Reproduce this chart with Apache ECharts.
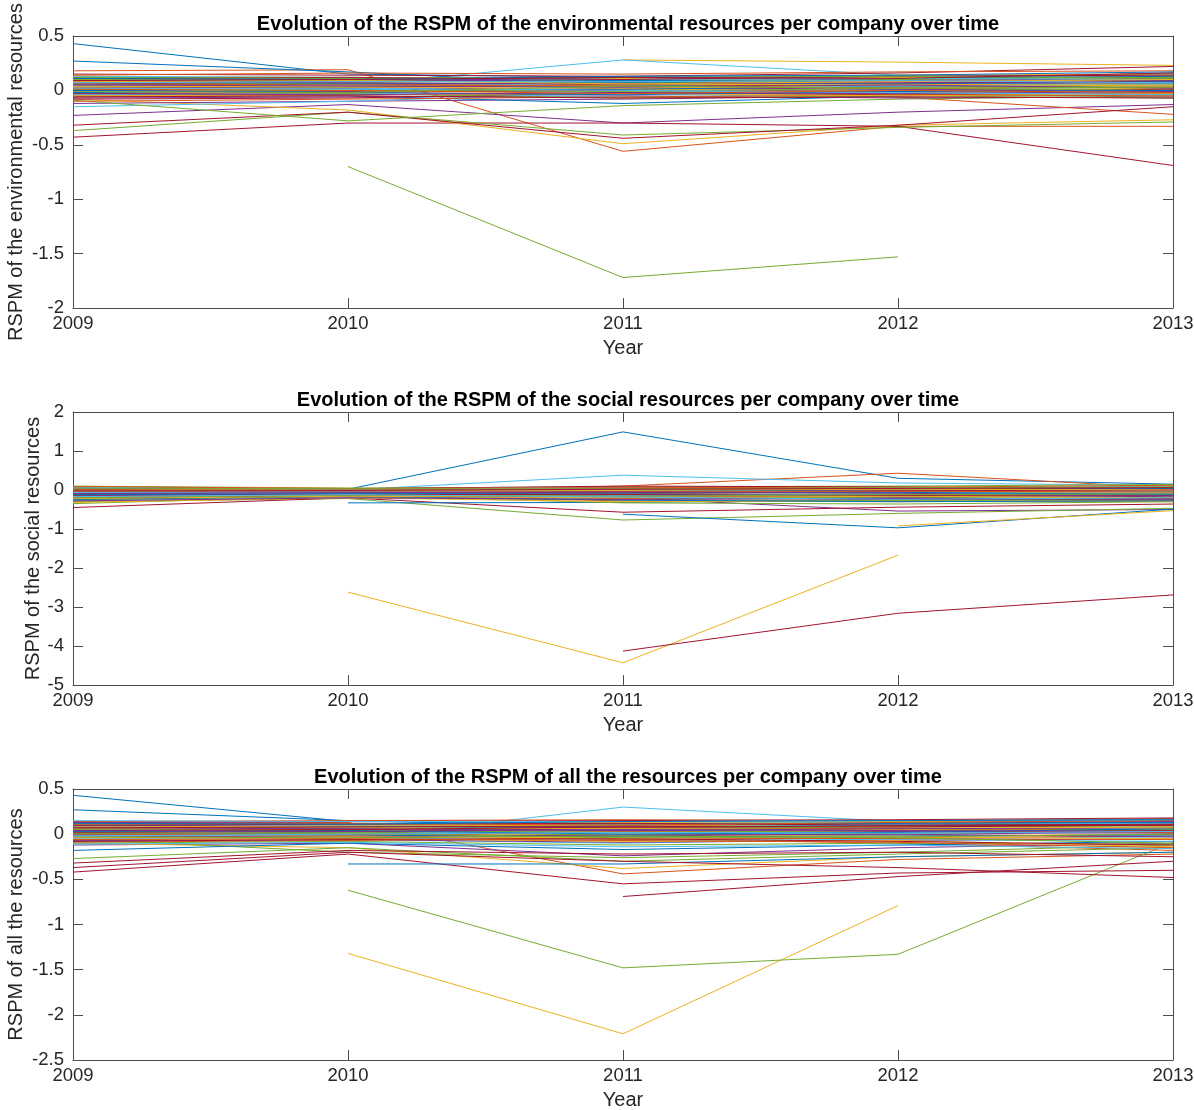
<!DOCTYPE html>
<html>
<head>
<meta charset="utf-8">
<script src="https://cdn.jsdelivr.net/npm/echarts@6/dist/echarts.min.js"></script>
<style>
  html, body { margin: 0; padding: 0; background: #fff; }
  #chart { width: 1194px; height: 1110px; }
</style>
</head>
<body>
<div id="chart"></div>
<script>
// x categories
const years = [2009, 2010, 2011, 2012, 2013]

// tick labels per panel
const envTicks = [-2, -1.5, -1, -0.5, 0, 0.5]
const socTicks = [-5, -4, -3, -2, -1, 0, 1, 2]
const allTicks = [-2.5, -2, -1.5, -1, -0.5, 0, 0.5]

// one row per company, rows go in sets of seven (blue, orange, yellow, purple, green, light blue, dark red)
const envRows = [
  [0.43, 0.15, 0.12, 0.13, 0.15], [0.18, 0.19, -0.56, -0.33, -0.33], [null, null, 0.28, 0.26, 0.23], [-0.23, -0.13, -0.3, -0.2, -0.13], [null, -0.7, -1.72, -1.53, null], [0.08, 0.05, 0.28, 0.14, 0.12], [-0.43, -0.3, -0.3, -0.33, -0.69],
  [0.27, 0.17, 0.05, 0.1, 0.16], [0.02, 0.03, 0.0, -0.06, -0.22], [-0.08, -0.18, -0.49, -0.32, -0.27], [-0.12, -0.1, -0.08, -0.05, -0.04], [-0.37, -0.2, -0.41, -0.34, -0.29], [-0.15, -0.1, -0.02, 0.0, 0.02], [-0.32, -0.2, -0.44, -0.32, -0.15],
  [-0.05, -0.05, -0.12, -0.05, -0.03], [0.12, 0.1, 0.08, 0.11, 0.13], [0.06, 0.07, 0.1, 0.09, 0.11], [0.03, 0.02, 0.0, 0.03, 0.05], [-0.09, -0.28, -0.14, -0.08, -0.05], [0.1, 0.09, 0.11, 0.12, 0.14], [0.15, 0.14, 0.13, 0.16, 0.22],
  [0.09, 0.08, 0.1, 0.12, 0.12], [-0.06, -0.04, -0.03, -0.02, -0.01], [0.1, 0.11, 0.09, 0.12, 0.08], [-0.07, -0.06, -0.05, -0.07, -0.06], [0.04, 0.03, 0.05, 0.06, 0.07], [0.0, 0.01, -0.02, 0.01, 0.03], [0.07, 0.06, 0.05, 0.04, 0.09],
  [0.02, 0.03, 0.04, 0.08, 0.1], [0.08, 0.07, 0.03, 0.05, 0.06], [-0.02, -0.01, 0.01, 0.0, 0.02], [0.11, 0.1, 0.08, 0.09, 0.11], [0.07, 0.06, 0.02, 0.03, 0.04], [-0.04, -0.03, -0.06, -0.03, -0.02], [-0.08, -0.07, -0.02, -0.04, -0.03],
  [0.12, 0.11, 0.09, 0.1, 0.13], [0.04, 0.05, 0.07, 0.08, 0.09], [0.13, 0.12, 0.11, 0.14, 0.15], [0.0, -0.01, 0.02, 0.01, 0.0], [-0.05, -0.03, -0.07, -0.05, -0.07], [0.06, 0.04, 0.06, 0.07, 0.05], [0.03, 0.02, 0.06, 0.07, 0.08],
  [-0.02, 0.0, 0.01, 0.04, 0.06], [-0.1, -0.08, -0.06, -0.04, -0.05], [0.03, 0.04, 0.05, 0.06, 0.04], [0.06, 0.08, 0.12, 0.1, 0.09], [0.1, 0.09, 0.07, 0.1, 0.12], [0.13, 0.12, 0.1, 0.11, 0.1], [-0.03, -0.02, 0.0, -0.01, 0.01],
  [0.05, 0.06, 0.07, 0.06, 0.08], [0.14, 0.16, 0.15, 0.17, 0.18], [-0.05, -0.04, -0.03, -0.05, -0.03], [0.09, 0.07, 0.06, 0.07, 0.07], [0.01, 0.0, -0.01, 0.02, 0.0], [0.04, 0.05, 0.03, 0.04, 0.06], [0.11, 0.12, 0.1, 0.13, 0.14],
  [0.0, -0.02, -0.04, -0.01, 0.0], [0.06, 0.05, 0.04, 0.02, 0.03], [0.08, 0.09, 0.06, 0.08, 0.1], [-0.03, -0.04, -0.02, -0.03, -0.01], [0.12, 0.11, 0.12, 0.13, 0.11], [0.02, 0.02, 0.0, -0.02, -0.04], [-0.06, -0.05, -0.07, -0.06, -0.07],
  [0.11, 0.1, 0.13, 0.14, 0.17], [0.01, 0.0, -0.03, 0.0, -0.02], [0.04, 0.03, 0.02, 0.05, 0.05], [0.05, 0.04, 0.03, 0.05, 0.02], [-0.01, -0.02, 0.04, 0.02, 0.03], [0.07, 0.08, 0.08, 0.09, 0.07], [0.09, 0.1, 0.12, 0.11, 0.16]
]

const socRows = [
  [0.02, 0.02, 1.49, 0.3, 0.15], [0.0, -0.05, 0.1, 0.43, 0.05], [null, -2.62, -4.43, -1.67, null], [-0.1, -0.12, -0.2, -0.54, -0.5], [-0.3, -0.22, -0.77, -0.6, -0.47], [0.05, 0.0, 0.38, 0.18, 0.12], [-0.45, -0.2, -0.57, -0.44, -0.36],
  [null, null, -0.62, -0.97, -0.49], [-0.08, -0.1, -0.15, -0.2, -0.1], [null, null, null, -0.92, -0.53], [-0.05, -0.06, -0.1, -0.12, -0.1], [0.1, 0.05, 0.08, 0.1, 0.14], [-0.2, -0.15, -0.22, -0.18, -0.15], [null, null, -4.13, -3.16, -2.69],
  [null, -0.33, -0.32, -0.25, -0.22], [0.05, 0.02, 0.0, 0.03, 0.05], [-0.15, -0.12, -0.1, -0.14, -0.12], [0.02, 0.0, -0.03, -0.05, -0.03], [-0.35, -0.15, -0.33, -0.36, -0.3], [0.0, -0.03, -0.05, -0.02, 0.0], [-0.1, -0.08, 0.05, -0.05, -0.1],
  [-0.18, -0.12, -0.2, -0.22, -0.25], [-0.25, -0.15, -0.28, -0.3, -0.26], [0.08, 0.04, 0.02, 0.05, 0.08], [-0.22, -0.18, -0.15, -0.1, -0.08], [-0.02, -0.05, 0.0, 0.02, 0.06], [-0.27, -0.2, -0.1, -0.15, -0.18], [0.06, 0.03, 0.1, 0.08, 0.02],
  [-0.08, -0.07, -0.12, -0.1, -0.05], [-0.12, -0.1, -0.08, -0.15, -0.2], [-0.32, -0.2, -0.3, -0.28, -0.3], [0.04, 0.02, 0.03, 0.0, -0.02], [-0.14, -0.1, -0.18, -0.2, -0.16], [0.07, 0.03, 0.06, 0.04, 0.1], [-0.2, -0.14, -0.18, -0.25, -0.22],
  [0.03, 0.0, -0.02, 0.0, 0.04], [-0.18, -0.13, -0.22, -0.12, -0.15], [-0.05, -0.04, -0.06, -0.08, -0.06], [-0.15, -0.1, -0.12, -0.18, -0.14], [-0.25, -0.17, -0.25, -0.27, -0.25], [-0.12, -0.08, -0.14, -0.1, -0.08], [-0.03, -0.04, -0.07, -0.02, 0.0],
  [-0.24, -0.16, -0.26, -0.3, -0.28], [0.09, 0.04, 0.06, 0.07, 0.12], [-0.22, -0.16, -0.2, -0.16, -0.2], [-0.28, -0.2, -0.24, -0.22, -0.24], [0.05, 0.03, 0.03, 0.06, 0.08], [-0.06, -0.05, -0.03, -0.06, -0.04], [-0.13, -0.11, -0.12, -0.14, -0.12],
  [-0.12, -0.09, -0.08, -0.06, -0.12], [-0.02, -0.02, -0.04, -0.03, -0.05], [0.02, 0.0, -0.01, 0.02, 0.0], [-0.09, -0.07, -0.05, -0.08, -0.18], [-0.2, -0.13, -0.16, -0.12, -0.1], [-0.17, -0.12, -0.18, -0.24, -0.2], [0.0, -0.01, 0.02, 0.04, 0.06]
]

const allRows = [
  [0.43, 0.14, 0.12, 0.13, 0.15], [0.12, 0.13, -0.44, -0.28, -0.22], [null, -1.32, -2.21, -0.79, null], [-0.12, -0.1, -0.24, -0.15, -0.1], [null, -0.62, -1.48, -1.33, -0.09], [0.0, -0.05, 0.3, 0.14, 0.12], [-0.42, -0.22, -0.55, -0.43, -0.4],
  [0.27, 0.15, 0.08, 0.12, 0.17], [0.05, 0.03, -0.05, -0.1, -0.18], [-0.1, -0.15, -0.38, -0.25, -0.2], [0.02, 0.0, -0.02, 0.0, 0.02], [-0.27, -0.15, -0.3, -0.22, -0.15], [-0.08, -0.06, -0.1, -0.05, -0.03], [null, null, -0.69, -0.47, -0.3],
  [null, -0.33, -0.33, -0.25, -0.2], [0.08, 0.06, 0.05, 0.09, 0.1], [0.1, 0.11, 0.08, 0.12, 0.1], [0.06, 0.05, 0.08, 0.07, 0.05], [-0.05, -0.2, -0.26, -0.2, -0.12], [0.1, 0.08, 0.12, 0.13, 0.14], [-0.37, -0.2, -0.3, -0.37, -0.48],
  [-0.18, -0.1, -0.17, -0.12, -0.08], [-0.04, -0.03, -0.06, -0.04, -0.02], [0.04, 0.05, 0.03, 0.06, 0.07], [-0.07, -0.06, -0.09, -0.07, -0.05], [0.12, 0.1, 0.1, 0.11, 0.13], [0.04, 0.03, 0.01, 0.02, 0.04], [-0.32, -0.18, -0.22, -0.2, -0.25],
  [0.0, 0.02, 0.04, 0.05, 0.08], [0.14, 0.15, 0.16, 0.15, 0.17], [-0.03, -0.02, 0.0, -0.02, 0.0], [0.1, 0.09, 0.07, 0.09, 0.1], [0.03, 0.02, -0.01, 0.01, 0.03], [-0.05, -0.04, -0.07, -0.06, -0.08], [0.13, 0.14, 0.15, 0.16, 0.18],
  [0.07, 0.06, 0.09, 0.1, 0.12], [-0.09, -0.07, -0.04, -0.05, -0.06], [0.12, 0.11, 0.13, 0.14, 0.15], [0.01, 0.0, 0.02, 0.03, 0.01], [-0.1, -0.08, -0.12, -0.1, -0.11], [0.05, 0.06, 0.05, 0.07, 0.06], [0.02, 0.03, 0.06, 0.05, 0.04],
  [-0.01, -0.01, -0.03, -0.02, -0.01], [0.06, 0.05, 0.07, 0.06, 0.05], [-0.06, -0.05, -0.08, -0.07, -0.14], [0.13, 0.12, 0.11, 0.12, 0.14], [0.08, 0.07, 0.06, 0.08, 0.09], [0.11, 0.1, 0.09, 0.11, 0.12], [-0.08, -0.06, -0.05, -0.08, -0.12],
  [0.09, 0.08, 0.11, 0.12, 0.13], [0.0, -0.01, 0.03, 0.04, 0.02], [0.06, 0.07, 0.06, 0.05, 0.08], [-0.02, -0.03, -0.01, 0.0, -0.03], [0.05, 0.04, 0.02, 0.04, 0.05], [-0.11, -0.09, -0.14, -0.12, -0.16], [0.1, 0.11, 0.12, 0.1, 0.11],
  [0.03, 0.04, 0.0, 0.02, 0.06], [0.11, 0.12, 0.1, 0.13, 0.15], [-0.04, -0.03, -0.04, -0.03, -0.05], [0.07, 0.06, 0.04, 0.06, 0.07], [-0.03, -0.04, -0.02, -0.04, -0.1], [0.15, 0.14, 0.14, 0.15, 0.16], [0.04, 0.05, 0.08, 0.09, 0.1],
  [0.12, 0.11, 0.14, 0.15, 0.16], [-0.06, -0.05, -0.07, -0.09, -0.15], [0.08, 0.09, 0.1, 0.08, 0.07], [0.04, 0.03, 0.05, 0.04, 0.03], [0.01, 0.01, -0.04, -0.03, 0.0], [-0.02, 0.0, 0.02, 0.01, 0.03], [0.07, 0.08, 0.09, 0.08, 0.1]
]

const titles = [
  'Evolution of the RSPM of the environmental resources per company over time',
  'Evolution of the RSPM of the social resources per company over time',
  'Evolution of the RSPM of all the resources per company over time'
]
const yNames = [
  'RSPM of the environmental resources',
  'RSPM of the social resources',
  'RSPM of all the resources'
]

const palette = ['#0072BD', '#D95319', '#EDB120', '#7E2F8E', '#77AC30', '#4DBEEE', '#A2142F']
const font = 'Liberation Sans, Arial, Helvetica, sans-serif'
const axisCol = '#4d4d4d'
const textCol = '#262626'

const panels = [
  { rows: envRows, ticks: envTicks, step: 0.5, top: 36, height: 272, nameGap: 47 },
  { rows: socRows, ticks: socTicks, step: 1, top: 412, height: 273, nameGap: 30 },
  { rows: allRows, ticks: allTicks, step: 0.5, top: 789, height: 271, nameGap: 47 }
]

function fmt (v) {
  return String(Math.round(v * 10) / 10)
}

let grid = []
let xAxis = []
let yAxis = []
let title = []
let series = []

panels.forEach((p, g) => {
  grid.push({ left: 73, right: 21, top: p.top, height: p.height, containLabel: false, outerBoundsMode: 'none' })
  title.push({
    text: titles[g],
    left: 623,
    top: p.top - 27,
    textAlign: 'center',
    textStyle: { fontFamily: font, fontSize: 20, fontWeight: 'bold', color: '#000' }
  })
  let line = { show: true, onZero: false, lineStyle: { color: axisCol, width: 1 } }
  let tick = { show: true, inside: true, length: 10, lineStyle: { color: axisCol } }
  xAxis.push({
    gridIndex: g,
    type: 'value',
    min: years[0],
    max: years[years.length - 1],
    interval: 1,
    position: 'bottom',
    name: 'Year',
    nameLocation: 'middle',
    nameGap: 30,
    nameMoveOverlap: false,
    nameTextStyle: { fontFamily: font, fontSize: 20, color: textCol },
    axisLine: line,
    axisTick: tick,
    splitLine: { show: false },
    axisLabel: { fontFamily: font, fontSize: 18.5, color: textCol, margin: 6, formatter: v => String(v) }
  })
  xAxis.push({
    gridIndex: g,
    type: 'value',
    min: years[0],
    max: years[years.length - 1],
    interval: 1,
    position: 'top',
    axisLine: line,
    axisTick: tick,
    splitLine: { show: false },
    axisLabel: { show: false }
  })
  let ymin = p.ticks[0]
  let ymax = p.ticks[p.ticks.length - 1]
  yAxis.push({
    gridIndex: g,
    type: 'value',
    min: ymin,
    max: ymax,
    interval: p.step,
    position: 'left',
    name: yNames[g],
    nameLocation: 'middle',
    nameGap: p.nameGap,
    nameMoveOverlap: false,
    nameTextStyle: { fontFamily: font, fontSize: 20, color: textCol },
    axisLine: line,
    axisTick: tick,
    splitLine: { show: false },
    axisLabel: { fontFamily: font, fontSize: 18.5, color: textCol, margin: 9, formatter: fmt }
  })
  yAxis.push({
    gridIndex: g,
    type: 'value',
    min: ymin,
    max: ymax,
    interval: p.step,
    position: 'right',
    axisLine: line,
    axisTick: tick,
    splitLine: { show: false },
    axisLabel: { show: false }
  })
  p.rows.forEach((row, i) => {
    series.push({
      type: 'line',
      xAxisIndex: g * 2,
      yAxisIndex: g * 2,
      symbol: 'none',
      connectNulls: false,
      silent: true,
      lineStyle: { width: 1, color: palette[i % 7] },
      data: years.map((y, k) => [y, row[k] === null ? '-' : row[k]])
    })
  })
})

let myChart = echarts.init(document.getElementById('chart'), null, { renderer: 'canvas' })
myChart.setOption({
  animation: false,
  backgroundColor: '#fff',
  title: title,
  grid: grid,
  xAxis: xAxis,
  yAxis: yAxis,
  series: series
})
</script>
</body>
</html>
